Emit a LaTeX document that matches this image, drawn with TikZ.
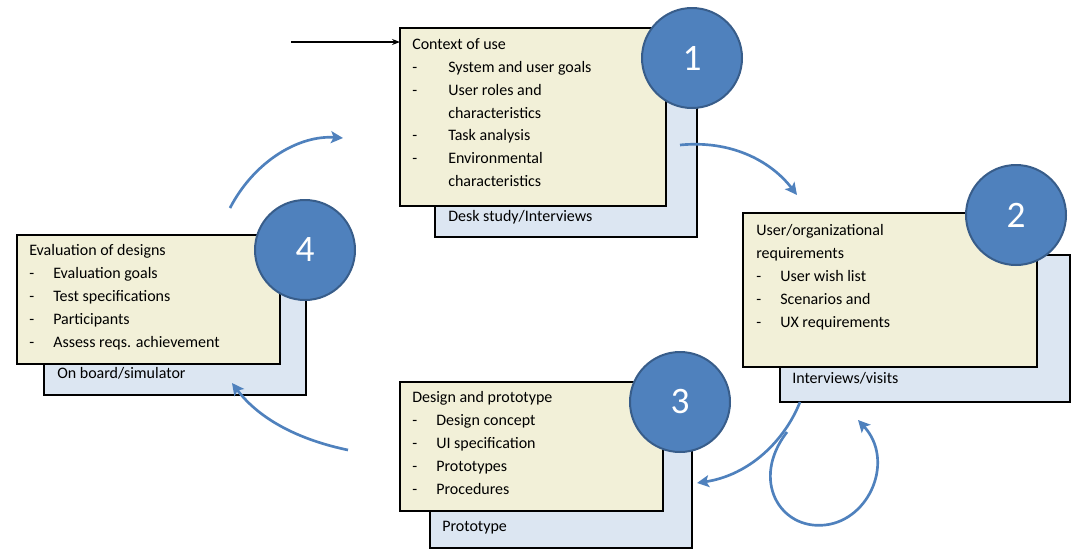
\documentclass[tikz,border=0pt]{standalone}
\usepackage{fontspec}
\setmainfont{Carlito}
\usetikzlibrary{arrows.meta}
\definecolor{boxfront}{HTML}{F2F0D8}
\definecolor{boxback}{HTML}{DCE6F2}
\definecolor{numfill}{HTML}{4F81BD}
\definecolor{numline}{HTML}{385D8A}
\newcommand{\dash}[1]{\makebox[#1][l]{-}}
\begin{document}
\begin{tikzpicture}[x=0.75pt,y=-0.75pt,
		back box/.style={draw,fill=boxback,thick},
		front box/.style={draw,fill=boxfront,thick},
		box text/.style={anchor=north west,align=left,inner sep=0pt,font=\fontsize{12}{17.2}\selectfont},
		num node/.style={circle,draw=numline,fill=numfill,line width=1.5pt,minimum size=75pt,text=white,font=\fontsize{28}{30}\selectfont},
		flow/.style={-{Stealth[length=9pt,width=9pt,inset=2pt]},draw=numfill,line width=2pt}]
		\useasboundingbox (0,0) rectangle (1082,558);
		% stage 1
		\draw[back box] (435,100) rectangle (697,237);
		\draw[front box] (400,28) rectangle (666,206);
		\node[box text] (t1) at (412,38) {Context of use\\
			\dash{27pt}System and user goals\\
			\dash{27pt}User roles and\\
			\hspace*{27pt}characteristics\\
			\dash{27pt}Task analysis\\
			\dash{27pt}Environmental\\
			\hspace*{27pt}characteristics};
		\node[box text] (l1) at (448,210) {Desk study/Interviews};
		\node[num node] (n1) at (692,58) {1};
		% stage 2
		\draw[back box] (780,255) rectangle (1070,402);
		\draw[front box] (743,213) rectangle (1037,367);
		\node[box text] (t2) at (756,224) {User/organizational\\
			requirements\\
			\dash{18pt}User wish list\\
			\dash{18pt}Scenarios and\\
			\dash{18pt}UX requirements};
		\node[box text] (l2) at (792,372) {Interviews/visits};
		\node[num node] (n2) at (1016,215) {2};
		% stage 3
		\draw[back box] (430,425) rectangle (692,548);
		\draw[front box] (400,382) rectangle (663,511);
		\node[box text] (t3) at (412,391) {Design and prototype\\
			\dash{18pt}Design concept\\
			\dash{18pt}UI specification\\
			\dash{18pt}Prototypes\\
			\dash{18pt}Procedures};
		\node[box text] (l3) at (442,521) {Prototype};
		\node[num node] (n3) at (680,402) {3};
		% stage 4
		\draw[back box] (44,290) rectangle (306,395);
		\draw[front box] (17,235) rectangle (280,364);
		\node[box text] (t4) at (29,244) {Evaluation of designs\\
			\dash{18pt}Evaluation goals\\
			\dash{18pt}Test specifications\\
			\dash{18pt}Participants\\
			\dash{18pt}Assess reqs. achievement};
		\node[box text] (l4) at (57,367) {On board/simulator};
		\node[num node] (n4) at (305,250) {4};
		% connectors
		\coordinate (start) at (291,42);
		\coordinate (in1) at (400,42);
		\draw[-{Stealth[length=6pt]},thick] (start) -- (in1);
		\coordinate (a1) at (230,208);
		\coordinate (b1) at (343,138);
		\draw[flow] (a1) .. controls (255,160) and (300,135) .. (b1);
		\coordinate (a2) at (680,145);
		\coordinate (b2) at (797,195);
		\draw[flow] (a2) .. controls (730,140) and (770,160) .. (b2);
		\coordinate (a3) at (800,402);
		\coordinate (b3) at (697,483);
		\draw[flow] (a3) .. controls (785,440) and (750,475) .. (b3);
		\coordinate (a4) at (348,450);
		\coordinate (b4) at (232,383);
		\draw[flow] (a4) .. controls (300,440) and (260,420) .. (b4);
		\coordinate (a5) at (787,432);
		\coordinate (b5) at (858,420);
		\draw[flow] (a5) .. controls (750,480) and (780,530) .. (825,525)
			.. controls (870,520) and (895,460) .. (b5);
	\end{tikzpicture}
\end{document}
